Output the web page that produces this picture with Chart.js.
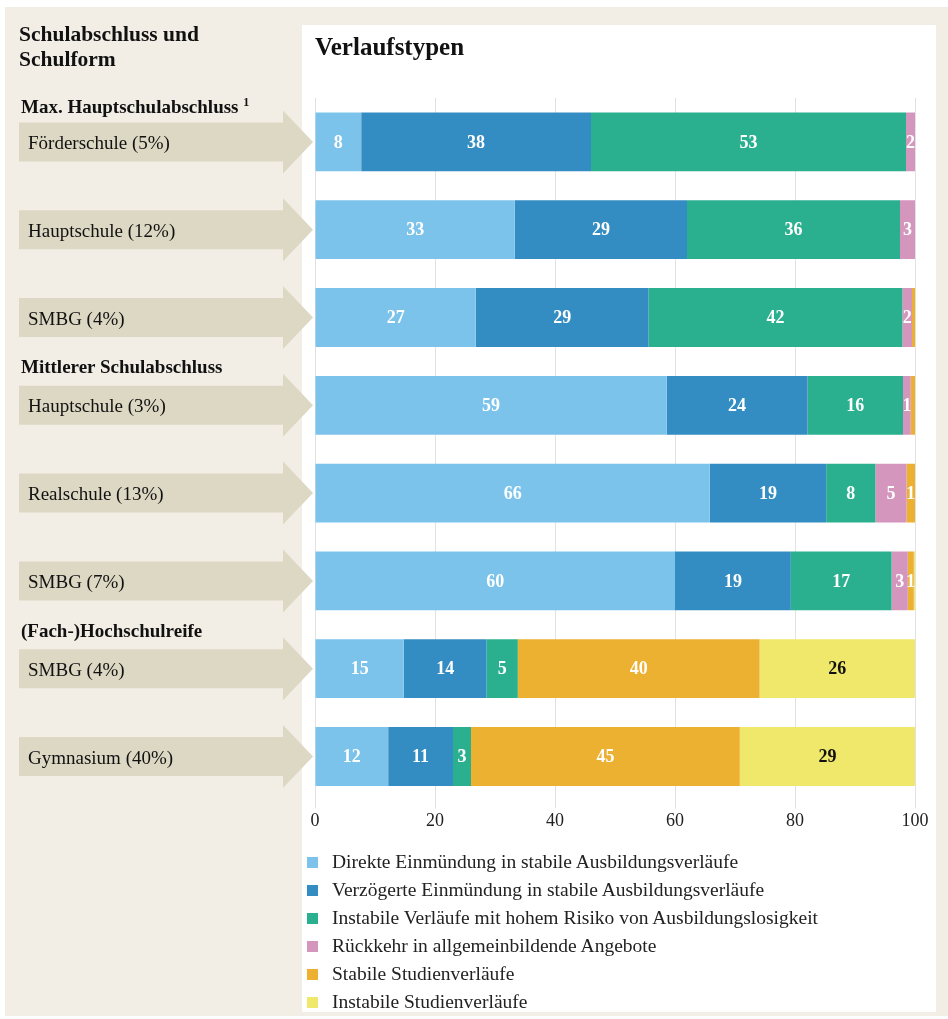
<!DOCTYPE html>
<html lang="de">
<head>
<meta charset="utf-8">
<script src="https://cdn.jsdelivr.net/npm/chart.js@4.4.1/dist/chart.umd.min.js"></script>
<style>
  html, body { margin: 0; padding: 0; background: #fff; }
  #page { position: absolute; left: 5px; top: 7px; width: 943px; height: 1009px; background: #f2eee6; }
  #panel { position: absolute; left: 302px; top: 25px; width: 634px; height: 987px; background: #fff; }
  #c { position: absolute; left: 0; top: 0; }
  .txt { position: absolute; font-family: "Liberation Serif", "Times New Roman", serif; color: #111; white-space: nowrap; }
  #head { left: 19px; top: 22px; font-size: 21.5px; font-weight: bold; line-height: 25px; }
  .grp { font-size: 19px; font-weight: bold; line-height: 22px; transform: translateY(-50%); left: 21px; }
  .grp sup { font-size: 12px; vertical-align: 7px; }
  .cat { font-size: 19px; line-height: 22px; transform: translateY(-50%); left: 28px; }
  #legend { position: absolute; left: 307px; top: 848px; font-family: "Liberation Serif", "Times New Roman", serif; font-size: 19.5px; color: #222; }
  #legend div { height: 28px; display: flex; align-items: center; white-space: nowrap; }
  #legend span.box { display: inline-block; width: 11px; height: 11px; margin-right: 14px; }
</style>
</head>
<body>
<div id="page"></div>
<div id="panel"></div>
<canvas id="c" width="948" height="1019"></canvas>
<div class="txt" id="head">Schulabschluss und<br>Schulform</div>
<div id="overlay"></div>
<div id="legend"></div>
<script>
// ---- data ----
const categories = ["Förderschule (5%)", "Hauptschule (12%)", "SMBG (4%)", "Hauptschule (3%)", "Realschule (13%)", "SMBG (7%)", "SMBG (4%)", "Gymnasium (40%)"];
const groups = ["Max. Hauptschulabschluss", "Mittlerer Schulabschluss", "(Fach-)Hochschulreife"];
const groupStart = [0, 3, 6];
const seriesNames = [
  "Direkte Einmündung in stabile Ausbildungsverläufe",
  "Verzögerte Einmündung in stabile Ausbildungsverläufe",
  "Instabile Verläufe mit hohem Risiko von Ausbildungslosigkeit",
  "Rückkehr in allgemeinbildende Angebote",
  "Stabile Studienverläufe",
  "Instabile Studienverläufe"
];
const direkt      = [7.7, 33.3, 26.8, 58.6, 65.8, 60.0, 14.8, 12.2];
const verzoegert  = [38.3, 28.7, 28.8, 23.5, 19.4, 19.3, 13.8, 10.8];
const instabilAus = [52.5, 35.5, 42.3, 15.9, 8.2, 16.8, 5.2, 3.0];
const rueckkehr   = [1.5, 2.5, 1.6, 1.3, 5.2, 2.7, 0, 0];
const stabilStud  = [0, 0, 0.5, 0.7, 1.4, 1.0, 40.3, 44.8];
const instabStud  = [0, 0, 0, 0, 0, 0.2, 25.9, 29.2];
const xTicks = [0, 20, 40, 60, 80, 100];

const colors = ["#7cc3ec", "#348dc2", "#2bb08f", "#d596bd", "#ecb131", "#f0e86a"];
const labelColors = ["#fff", "#fff", "#fff", "#fff", "#fff", "#111"];
const seriesData = [direkt, verzoegert, instabilAus, rueckkehr, stabilStud, instabStud];

const FONT = '"Liberation Serif", "Times New Roman", serif';

const arrowPlugin = {
  id: 'arrows',
  beforeDatasetsDraw(chart) {
    const ctx = chart.ctx, y = chart.scales.y;
    ctx.save();
    ctx.fillStyle = '#ddd8c3';
    categories.forEach((c, i) => {
      const cy = y.getPixelForValue(i);
      const x0 = 19, x1 = 283, x2 = 313, bh = 19.5, hh = 31.5;
      ctx.beginPath();
      ctx.moveTo(x0, cy - bh);
      ctx.lineTo(x1, cy - bh);
      ctx.lineTo(x1, cy - hh);
      ctx.lineTo(x2, cy);
      ctx.lineTo(x1, cy + hh);
      ctx.lineTo(x1, cy + bh);
      ctx.lineTo(x0, cy + bh);
      ctx.closePath();
      ctx.fill();
    });
    ctx.restore();
  }
};

const valueLabels = {
  id: 'valueLabels',
  afterDatasetsDraw(chart) {
    const ctx = chart.ctx;
    ctx.save();
    ctx.font = 'bold 18px ' + FONT;
    ctx.textAlign = 'center';
    ctx.textBaseline = 'middle';
    chart.data.datasets.forEach((ds, di) => {
      const meta = chart.getDatasetMeta(di);
      meta.data.forEach((el, i) => {
        const v = ds.data[i];
        if (v < 0.95) return;
        ctx.fillStyle = labelColors[di];
        ctx.fillText(String(Math.round(v)), (el.x + el.base) / 2, el.y + 1);
      });
    });
    ctx.restore();
  }
};

const chart = new Chart(document.getElementById('c'), {
  type: 'bar',
  data: {
    labels: categories,
    datasets: seriesNames.map((n, i) => ({
      label: n,
      data: seriesData[i],
      backgroundColor: colors[i],
      borderWidth: 0,
      barPercentage: 0.67,
      categoryPercentage: 1
    }))
  },
  options: {
    indexAxis: 'y',
    responsive: false,
    animation: false,
    layout: { padding: { left: 315, right: 33, top: 0, bottom: 185 } },
    plugins: {
      legend: { display: false },
      tooltip: { enabled: false },
      title: {
        display: true, text: 'Verlaufstypen', align: 'start',
        color: '#111', font: { family: FONT, size: 25, weight: 'bold' },
        padding: { top: 34, bottom: 34 }
      }
    },
    scales: {
      x: {
        stacked: true, min: 0, max: 100,
        afterBuildTicks: (s) => { s.ticks = xTicks.map(v => ({ value: v })); },
        grid: { color: '#e2e2e2', tickLength: 8, drawTicks: true },
        border: { display: false },
        ticks: { color: '#222', font: { family: FONT, size: 18 }, padding: 2 }
      },
      y: { stacked: true, display: false }
    }
  },
  plugins: [arrowPlugin, valueLabels]
});

// left-column labels from scale positions
const ov = document.getElementById('overlay');
const ys = chart.scales.y;
categories.forEach((c, i) => {
  const d = document.createElement('div');
  d.className = 'txt cat';
  d.textContent = c;
  d.style.top = (ys.getPixelForValue(i) + 1) + 'px';
  ov.appendChild(d);
});
groups.forEach((g, k) => {
  const d = document.createElement('div');
  d.className = 'txt grp';
  d.innerHTML = g + (k === 0 ? ' <sup>1</sup>' : '');
  d.style.top = (ys.getPixelForValue(groupStart[k]) - 38) + 'px';
  ov.appendChild(d);
});
// legend
const lg = document.getElementById('legend');
seriesNames.forEach((n, i) => {
  const d = document.createElement('div');
  d.innerHTML = '<span class="box" style="background:' + colors[i] + '"></span>';
  d.appendChild(document.createTextNode(n));
  lg.appendChild(d);
});
</script>
</body>
</html>
